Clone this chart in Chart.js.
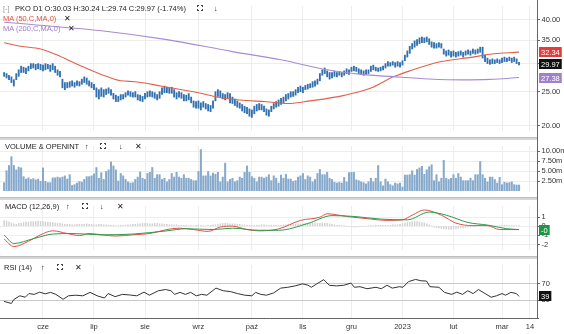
<!DOCTYPE html>
<html>
<head>
<meta charset="utf-8">
<script src="https://cdn.jsdelivr.net/npm/chart.js@4.4.0/dist/chart.umd.min.js"></script>
<style>
  body { margin: 0; background: #fff; width: 564px; height: 334px; overflow: hidden; position: relative;
         font-family: "Liberation Sans", Arial, sans-serif; }
  canvas { position: absolute; left: 0; }
  .t { position: absolute; font-size: 7.5px; line-height: 9px; color: #222; white-space: nowrap; }
  .ex { position: absolute; width: 4px; height: 4px; border: 1px solid #444; }
  .ex:before { content: ""; position: absolute; left: -2px; right: -2px; top: 1px; height: 2px; background: #fff; }
  .ex:after { content: ""; position: absolute; top: -2px; bottom: -2px; left: 1px; width: 2px; background: #fff; }
  .sep { position: absolute; left: 0; width: 537px; height: 2px; background: #d6d6d6; border-top: 1px solid #bdbdbd; }
  #vaxis { position: absolute; left: 537px; top: 0; width: 1px; height: 318px; background: #666; }
</style>
</head>
<body>
<canvas id="price" width="564" height="137" style="top:0px"></canvas>
<canvas id="volume" width="564" height="57" style="top:140px"></canvas>
<canvas id="macd" width="564" height="56" style="top:200px"></canvas>
<canvas id="rsi" width="564" height="75" style="top:259px"></canvas>
<div class="sep" style="top:137px"></div>
<div class="sep" style="top:197px"></div>
<div class="sep" style="top:256px"></div>
<div id="vaxis"></div>

<div class="t" style="left:3px;top:3.5px;color:#999">[-]</div>
<div class="t" id="head" style="left:15px;top:3.5px"></div>
<div class="ex" style="left:197px;top:5px"></div>
<div class="t" style="left:214px;top:3.5px">↓</div>
<div class="t" style="left:3px;top:13.5px;color:#e0523f">MA (50,C,MA,0)</div>
<div class="t" style="left:64px;top:13.5px">✕</div>
<div class="t" style="left:3px;top:23.5px;color:#9a7cc8">MA (200,C,MA,0)</div>
<div class="t" style="left:68px;top:23.5px">✕</div>

<div class="t" style="left:5px;top:141.5px">VOLUME &amp; OPENINT</div>
<div class="t" style="left:85px;top:141.5px">↑</div>
<div class="ex" style="left:100px;top:143px"></div>
<div class="t" style="left:119px;top:141.5px">↓</div>
<div class="t" style="left:135px;top:141.5px">✕</div>

<div class="t" style="left:5px;top:201.5px">MACD (12,26,9)</div>
<div class="t" style="left:66px;top:201.5px">↑</div>
<div class="ex" style="left:82px;top:203px"></div>
<div class="t" style="left:100px;top:201.5px">↓</div>
<div class="t" style="left:117px;top:201.5px">✕</div>

<div class="t" style="left:4px;top:262.5px">RSI (14)</div>
<div class="t" style="left:41px;top:262.5px">↑</div>
<div class="ex" style="left:57px;top:264px"></div>
<div class="t" style="left:75px;top:262.5px">✕</div>

<script>
// --- data, one entry per trading day (May 2022 .. 10 Mar 2023) ---
const highs = [
  28.3, 28.1, 27.8, 27.5, 27.0,  28.1, 28.8, 29.5, 29.3, 29.15,
  29.5, 30.0, 30.0, 29.85, 30.0,  29.85, 29.7, 30.0, 29.85, 29.7,
  30.0, 29.5, 28.8, 28.5, 27.1,  26.5, 26.5, 26.65, 26.8, 26.5,
  26.8, 26.65, 27.1, 27.5, 27.3,  26.8, 26.5, 26.2, 25.6, 25.3,
  25.6, 25.3, 25.4, 25.6, 25.3,  24.7, 24.4, 24.2, 24.5, 24.5,
  24.8, 25.1, 24.96, 24.8, 24.96,  24.5, 24.4, 24.2, 24.7, 24.96,
  25.1, 24.96, 24.8, 24.5, 24.96,  25.6, 25.9, 25.7, 25.6, 25.7,
  25.3, 24.8, 24.96, 24.8, 24.5,  24.4, 24.66, 24.1, 23.5, 23.4,
  23.5, 23.2, 23.4, 23.1, 22.96,  22.8, 23.5, 24.96, 25.3, 25.1,
  24.66, 24.5, 24.8, 24.66, 24.1,  23.8, 23.5, 23.2, 22.96, 22.7,
  22.55, 22.3, 22.15, 22.7, 22.96,  23.1, 22.96, 22.7, 22.3, 22.15,
  22.7, 23.1, 23.4, 23.65, 23.9,  24.1, 24.5, 24.66, 24.96, 24.96,
  25.3, 25.7, 25.9, 25.7, 26.0,  26.2, 26.3, 26.65, 26.8, 27.1,
  28.1, 28.8, 29.15, 28.6, 28.3,  28.3, 28.5, 28.3, 28.5, 28.3,
  28.6, 29.0, 28.8, 29.3, 29.5,  29.3, 29.0, 28.8, 28.6, 28.8,
  28.8, 29.5, 29.7, 29.3, 29.15,  29.3, 29.5, 30.0, 30.4, 30.2,
  30.4, 30.2, 30.4, 30.2, 30.57,  31.7, 32.6, 33.6, 34.2, 34.8,
  35.1, 35.5, 35.7, 35.5, 35.7,  35.3, 34.6, 34.4, 34.2, 34.4,
  34.2, 33.0, 32.6, 32.8, 32.45,  32.6, 32.3, 32.45, 32.6, 32.3,
  32.6, 32.8, 32.6, 33.0, 32.8,  33.0, 33.4, 33.4, 31.7, 31.1,
  30.75, 30.94, 30.75, 30.94, 30.75,  31.1, 31.3, 31.1, 31.3, 31.1,
  31.3, 30.94, 30.24
];
const lows = [
  27.6, 27.3, 27.0, 26.5, 25.9,  27.0, 27.6, 28.3, 28.3, 28.1,
  28.6, 29.0, 29.15, 28.8, 29.0,  28.8, 28.6, 28.8, 29.0, 28.5,
  28.8, 28.3, 27.8, 27.5, 25.6,  25.3, 25.6, 25.7, 25.9, 25.7,
  26.0, 25.9, 26.2, 26.5, 26.2,  25.9, 25.6, 25.3, 24.1, 23.8,
  24.2, 24.1, 24.5, 24.7, 24.4,  23.8, 23.4, 23.4, 23.65, 23.8,
  24.1, 24.4, 24.2, 24.1, 24.1,  23.65, 23.5, 23.4, 23.8, 24.1,
  24.2, 24.1, 23.9, 23.65, 23.9,  24.5, 24.8, 24.8, 24.7, 24.7,
  24.1, 23.8, 24.1, 23.9, 23.5,  23.5, 23.65, 23.2, 22.55, 22.4,
  22.4, 22.15, 22.55, 22.3, 22.0,  21.9, 22.4, 23.5, 24.2, 24.1,
  23.8, 23.65, 23.9, 23.2, 23.1,  22.8, 22.55, 22.4, 22.0, 21.75,
  21.6, 21.25, 21.1, 21.6, 22.0,  22.15, 22.15, 21.9, 21.4, 21.25,
  21.9, 22.3, 22.55, 22.7, 22.96,  23.2, 23.5, 23.8, 24.1, 24.2,
  24.4, 24.8, 24.96, 24.8, 25.3,  25.4, 25.6, 25.7, 25.9, 26.2,
  26.8, 27.8, 28.1, 27.5, 27.1,  27.3, 27.6, 27.5, 27.8, 27.5,
  27.8, 28.1, 27.95, 28.5, 28.6,  28.5, 28.1, 27.95, 27.8, 27.95,
  28.1, 28.5, 28.8, 28.6, 28.5,  28.6, 28.8, 29.15, 29.5, 29.5,
  29.7, 29.3, 29.5, 29.3, 29.7,  30.57, 31.3, 32.07, 33.0, 33.4,
  33.8, 34.2, 34.4, 34.4, 34.6,  34.0, 33.4, 33.2, 33.2, 33.4,
  33.2, 31.9, 31.5, 31.7, 31.3,  31.5, 31.3, 31.5, 31.7, 31.3,
  31.7, 31.9, 31.7, 32.07, 31.9,  32.07, 32.3, 31.1, 30.4, 30.0,
  29.85, 30.0, 30.0, 30.2, 30.0,  30.2, 30.4, 30.4, 30.57, 30.2,
  30.4, 30.0, 29.74
];
const lastOpen = 30.03, lastHigh = 30.24, lastLow = 29.74, lastClose = 29.97, lastChange = -1.74;

// moving averages at a few bars
const ma50Idx = [0, 7, 15, 23, 31, 40, 48, 54, 65, 80, 88, 97, 108, 117, 126, 140, 151, 160, 167, 180, 193, 200, 212];
const ma50 = [34.4, 33.6, 33.0, 31.5, 29.67, 27.95, 26.8, 26.65, 25.87, 24.8, 24.08, 23.65, 23.37, 23.1, 23.5, 24.37, 25.56, 27.46, 28.6, 30.4, 31.3, 31.9, 32.34];
const ma200Idx = [0, 40, 67, 94, 114, 133, 147, 160, 175, 189, 200, 212];
const ma200 = [39.3, 37.2, 35.1, 32.45, 30.76, 28.8, 27.95, 27.54, 27.13, 26.97, 27.05, 27.38];

// volume in millions
const volume = [
  2.1, 5.1, 6.4, 8.6, 6.4, 5.3, 6.0, 5.8, 3.6, 3.0,
  3.3, 2.9, 3.1, 2.8, 3.0, 2.4, 5.8, 2.4, 2.1, 2.1,
  3.3, 3.3, 3.5, 3.3, 3.5, 3.8, 3.0, 4.1, 1.4, 1.6,
  2.0, 2.4, 2.2, 2.9, 3.6, 3.6, 3.8, 4.3, 5.9, 3.2,
  4.6, 2.9, 4.9, 5.3, 7.3, 6.3, 5.3, 2.5, 4.4, 3.8,
  2.9, 2.3, 2.0, 2.1, 2.9, 3.5, 4.8, 3.2, 2.9, 4.4,
  4.7, 5.9, 3.2, 4.1, 4.1, 2.9, 3.2, 2.3, 2.9, 4.4,
  3.5, 4.7, 3.5, 3.2, 4.1, 3.2, 3.2, 2.9, 2.6, 2.6,
  4.9, 10.4, 3.8, 3.8, 4.9, 3.8, 4.5, 4.2, 4.7, 2.3,
  3.5, 7.0, 2.3, 2.9, 3.2, 2.3, 2.6, 3.5, 3.2, 4.7,
  6.3, 4.7, 3.6, 3.2, 2.3, 3.5, 3.5, 3.2, 3.5,
  4.1, 2.6, 3.8, 3.2, 2.0, 4.0, 3.2, 4.2, 3.0, 3.0,
  2.4, 2.6, 3.5, 3.8, 4.4, 2.9, 3.8, 3.5, 2.3, 2.9,
  4.4, 5.4, 4.1, 4.1, 4.7, 3.2, 2.9, 2.2, 2.0, 2.2,
  2.0, 3.4, 2.3, 4.6, 4.7, 4.7, 2.8, 2.6, 2.3, 2.1,
  1.8, 2.3, 3.2, 2.3, 3.2, 6.4, 2.3, 1.3, 3.0, 2.3,
  1.6, 1.3, 2.0, 1.8, 2.0, 1.0, 4.0, 4.0, 4.1, 5.1,
  4.0, 5.4, 5.8, 6.2, 4.2, 5.3, 6.1, 6.6, 2.6, 4.1,
  2.3, 3.2, 7.7, 3.2, 2.9, 3.2, 4.1, 3.2, 4.4, 3.5,
  2.6, 2.6, 2.6, 3.2, 2.6, 4.1, 4.1, 7.4, 4.1, 3.2,
  2.3, 3.5, 3.5, 2.9, 2.0, 3.4, 1.6, 2.2, 2.0, 2.1,
  2.3, 1.6, 1.5, 1.5
];

// MACD (12,26,9)
const macdIdx = [0, 4, 10, 15, 20, 26, 31, 35, 40, 46, 53, 60, 67, 72, 78, 84, 89, 94, 100, 105, 113, 122, 130, 133, 141, 149, 158, 164, 168, 173, 180, 186, 193, 199, 204, 212];
const macdLine = [-1.40, -2.23, -1.65, -0.94, -0.51, -0.80, -1.03, -0.80, -0.94, -1.08, -0.94, -0.80, -0.37, -0.22, -0.37, -0.57, -0.09, 0.0, -0.37, -0.51, -0.30, 0.63, 0.98, 1.35, 1.06, 0.83, 0.63, 0.69, 1.20, 1.77, 1.20, 0.34, 0.06, 0.06, -0.37, -0.37];
const signalIdx = [0, 4, 12, 20, 28, 40, 53, 67, 75, 86, 94, 105, 113, 125, 135, 144, 155, 166, 175, 182, 191, 199, 207, 212];
const signalLine = [-0.97, -1.89, -1.37, -0.86, -0.80, -0.94, -0.86, -0.51, -0.28, -0.37, -0.22, -0.45, -0.45, 0.29, 1.15, 1.06, 0.77, 0.69, 1.54, 1.20, 0.40, 0.12, -0.28, -0.37];
const macdHist = [
  0.6, 0.55, 0.45, 0.35, 0.25, 0.2,
  0.3, 0.35, 0.4, 0.45, 0.45, 0.5, 0.5, 0.5, 0.55, 0.5, 0.5, 0.45, 0.45, 0.4, 0.4, 0.35, 0.3, 0.3,
  0.25, 0.2, 0.2, 0.2, 0.15, 0.15, 0.2, 0.2, 0.2, 0.2, 0.25, 0.2, 0.2, 0.15, 0.15, 0.2, 0.2, 0.15, 0.15, 0.1, 0.1, 0.1,
  0.05, 0.05, 0.1, 0.1, 0.1, 0.15, 0.15,
  0.2, 0.2, 0.25, 0.25, 0.3, 0.3, 0.3, 0.25, 0.25, 0.3, 0.3, 0.25, 0.25, 0.2, 0.2,
  0.15, 0.15, 0.15, 0.15, 0.1, 0.1, 0.1, 0.1,
  0.05, 0.05, 0.05, 0.1, 0.1, 0.1, 0.05, 0.05, 0.1, 0.1, 0.15, 0.15, 0.2,
  0.25, 0.3, 0.3, 0.3, 0.25, 0.25, 0.25, 0.2, 0.2, 0.15,
  0.15, 0.1, 0.1, 0.1, 0.1, 0.1, 0.1, 0.15, 0.15, 0.1, 0.1, 0.1, 0.1, 0.1, 0.1,
  0.1, 0.15, 0.15, 0.2, 0.2, 0.2, 0.2, 0.25, 0.25, 0.25, 0.3,
  0.3, 0.35, 0.35, 0.35, 0.3, 0.3, 0.35, 0.3, 0.3, 0.25, 0.2, 0.15, 0.1, 0.1,
  0.05, 0.05, 0, -0.05, -0.05, -0.1, -0.1, -0.05, -0.05, 0, 0, 0.05,
  0.05, 0.05, 0.1, 0.1, 0.1, 0.1, 0.1, 0.1, 0.1, 0.15, 0.15, 0.15, 0.2, 0.25, 0.3,
  0.4, 0.45, 0.5, 0.5, 0.5, 0.45, 0.4, 0.35, 0.25, 0.15, 0.05,
  -0.1, -0.15, -0.2, -0.25, -0.3, -0.3, -0.35, -0.35, -0.3, -0.3, -0.25, -0.2, -0.2, -0.15, -0.1, -0.1,
  -0.05, 0, 0.05, 0.1, 0.1, 0.1, 0.1, 0.05, 0.05, 0.05, 0.05, 0.05, 0.1, 0.1, 0.1, 0.05, 0.05, 0.05, 0.05, 0.05
];

// RSI (14)
const rsiIdx = [0, 3, 4, 6.5, 8.7, 10.2, 12.4, 14.6, 16.9, 19.1, 21.3, 24.3, 26.5, 29.5, 32.4, 35.4, 38.3, 41.3, 42.8, 45.7,
  48.7, 51.7, 54.6, 57.6, 59.8, 63.5, 66.5, 68.7, 70.2, 72.4, 74.6, 76.8, 79.1, 81.3, 83.5, 87.2, 90.2, 93.1, 96.1, 99.1,
  102, 103.5, 105.7, 108, 110.9, 113.9, 116.8, 119.8, 122.8, 125, 126.5, 128.7, 131.6, 133.9, 136.8, 139.8, 142.8, 144.2, 146.5, 149.4,
  153.1, 155.3, 157.6, 159.8, 162.7, 164.2, 166.5, 169.4, 171.6, 173.9, 175.3, 179, 181.3, 184.2, 186.4, 188.7, 190.9, 193.1, 195.3, 197.6,
  200.5, 202.7, 205, 206.4, 208.7, 210.9, 212];
const rsi = [26.5, 21.6, 31.4, 40.5, 37, 46, 44, 49.6, 45.4, 49, 44, 32, 40.5, 42, 40.5, 49, 40.5, 35, 46, 38.4,
  44, 42.6, 40.5, 49.6, 42, 53, 56, 53, 44, 49, 44, 49, 40.5, 44, 42, 59.5, 53, 51, 46, 42,
  40.5, 49, 44, 42, 47.5, 59.5, 61.6, 65, 70, 67, 61.6, 70, 80.5, 66.5, 65, 66.5, 72, 61.6, 63, 58,
  61.6, 58, 66.5, 59.5, 63, 61.6, 75.6, 81, 77.7, 77, 63, 61.6, 49, 44, 49.6, 44, 53, 46, 56, 47.5,
  37, 40.5, 46, 42, 49, 46, 39];

// x axis labels at trading-day indices
const tickIdx = [16, 37, 58, 80, 102, 123, 143, 164, 185, 205, 216.5];
const tickLabels = ['cze', 'lip', 'sie', 'wrz', 'paź', 'lis', 'gru', '2023', 'lut', 'mar', '14'];

// ---------------------------------------------------------------
document.getElementById('head').textContent =
  'PKO  D1  O:' + lastOpen.toFixed(2) + '  H:' + lastHigh.toFixed(2) + '  L:' + lastLow.toFixed(2) +
  '  C:' + lastClose.toFixed(2) + '  (' + lastChange.toFixed(2) + '%)';

Chart.defaults.font.family = '"Liberation Sans", Arial, sans-serif';
Chart.defaults.font.size = 7.5;
Chart.defaults.color = '#333';
Chart.defaults.animation = false;
Chart.defaults.events = [];
Chart.defaults.plugins.legend.display = false;
Chart.defaults.plugins.tooltip.enabled = false;

const xMin = -1.7, xMax = 219.8;
const pts = (xs, ys) => xs.map((x, i) => ({x: x, y: ys[i]}));

function xScale(show) {
  return {
    type: 'linear', min: xMin, max: xMax, offset: false,
    afterBuildTicks: s => { s.ticks = tickIdx.map(v => ({value: v})) },
    afterFit: s => { s.height = show ? 16 : 0 },
    grid: {color: '#ededed', drawTicks: false, offset: false},
    border: {display: show, color: '#666'},
    ticks: {display: show, padding: 4, maxRotation: 0, autoSkip: false, callback: (v, i) => tickLabels[i]}
  };
}

function yScale(type, min, max, ticks, fmt, gridColor) {
  return {
    type: type, position: 'right', min: min, max: max,
    afterBuildTicks: s => { s.ticks = ticks.map(v => ({value: v})) },
    afterFit: s => { s.width = 26 },
    grid: {color: gridColor || '#ededed', tickLength: 2, tickColor: '#666'},
    border: {display: false},
    ticks: {padding: 1.5, callback: fmt}
  };
}

// coloured last-value boxes on the right axis
const boxes = {
  id: 'boxes',
  afterDraw(chart, args, opts) {
    const ctx = chart.ctx, y = chart.scales.y, right = chart.chartArea.right;
    ctx.save();
    ctx.font = '7.5px "Liberation Sans", Arial, sans-serif';
    ctx.textBaseline = 'middle';
    (opts.items || []).forEach(b => {
      const py = Math.round(y.getPixelForValue(b.value));
      const w = ctx.measureText(b.text).width + 4;
      ctx.fillStyle = b.color;
      ctx.fillRect(right + 1, py - 5, w, 10);
      ctx.fillStyle = '#fff';
      ctx.fillText(b.text, right + 3, py + 0.5);
    });
    ctx.restore();
  }
};

const base = {responsive: false, maintainAspectRatio: false, layout: {padding: 0}};

new Chart(document.getElementById('price'), {
  type: 'bar',
  data: {
    datasets: [
      {type: 'line', data: pts(ma200Idx, ma200), borderColor: '#a78bd2', borderWidth: 1.1, pointRadius: 0, cubicInterpolationMode: 'monotone'},
      {type: 'line', data: pts(ma50Idx, ma50), borderColor: '#e0604a', borderWidth: 1.1, pointRadius: 0, cubicInterpolationMode: 'monotone'},
      {data: highs.map((h, i) => ({x: i, y: [lows[i], h]})), backgroundColor: '#3271b0', barThickness: 1.2}
    ]
  },
  options: Object.assign({}, base, {
    scales: {
      x: xScale(false),
      y: yScale('logarithmic', 19.3, 43.73, [20, 25, 30, 35, 40], v => Number(v).toFixed(2))
    },
    plugins: {boxes: {items: [
      {value: ma50[ma50.length - 1], text: ma50[ma50.length - 1].toFixed(2), color: '#e23c3c'},
      {value: lastClose, text: lastClose.toFixed(2), color: '#111'},
      {value: ma200[ma200.length - 1], text: ma200[ma200.length - 1].toFixed(2), color: '#a07fcc'}
    ]}}
  }),
  plugins: [boxes]
});

new Chart(document.getElementById('volume'), {
  type: 'bar',
  data: {datasets: [{data: volume.map((v, i) => ({x: i, y: v})), backgroundColor: '#86a9cc', barThickness: 1.4}]},
  options: Object.assign({}, base, {
    scales: {
      x: xScale(false),
      y: yScale('linear', 0, 11.3, [2.5, 5, 7.5, 10], v => Number(v).toFixed(2) + 'm')
    }
  })
});

new Chart(document.getElementById('macd'), {
  type: 'bar',
  data: {
    datasets: [
      {type: 'line', data: pts(signalIdx, signalLine), borderColor: '#2f9a4c', borderWidth: 1, pointRadius: 0, cubicInterpolationMode: 'monotone'},
      {type: 'line', data: pts(macdIdx, macdLine), borderColor: '#e0504a', borderWidth: 1, pointRadius: 0, cubicInterpolationMode: 'monotone'},
      {data: macdHist.map((v, i) => ({x: i, y: v})), backgroundColor: '#d2d2d2', barThickness: 0.8}
    ]
  },
  options: Object.assign({}, base, {
    scales: {
      x: xScale(false),
      y: yScale('linear', -2.6, 2.2, [-2, -1, 0, 1], v => String(v))
    },
    plugins: {boxes: {items: [
      {value: signalLine[signalLine.length - 1], text: signalLine[signalLine.length - 1].toFixed(0), color: '#1f9447'}
    ]}}
  }),
  plugins: [boxes]
});

new Chart(document.getElementById('rsi'), {
  type: 'line',
  data: {datasets: [{data: pts(rsiIdx, rsi), borderColor: '#333', borderWidth: 1, pointRadius: 0, tension: 0}]},
  options: Object.assign({}, base, {
    scales: {
      x: xScale(true),
      y: yScale('linear', -14.4, 116.7, [30, 70], v => String(v), '#c8c8c8')
    },
    plugins: {boxes: {items: [
      {value: rsi[rsi.length - 1], text: String(rsi[rsi.length - 1]), color: '#111'}
    ]}}
  }),
  plugins: [boxes]
});
</script>
</body>
</html>
